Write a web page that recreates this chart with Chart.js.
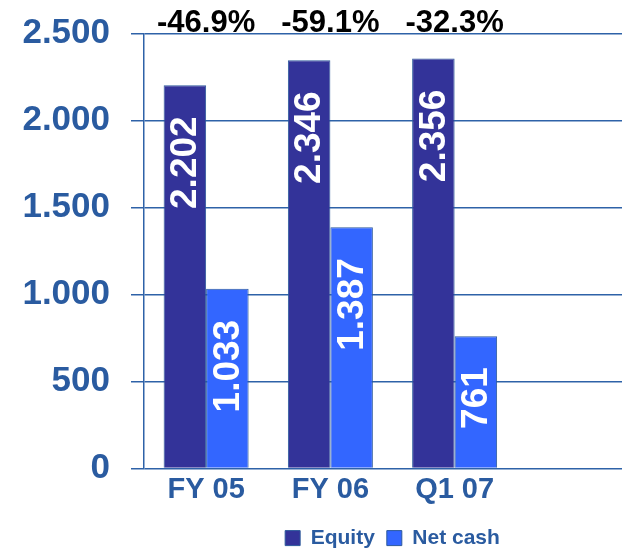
<!DOCTYPE html>
<html>
<head>
<meta charset="utf-8">
<script src="https://cdn.jsdelivr.net/npm/chart.js@4.4.1/dist/chart.umd.min.js"></script>
<style>
  html, body { margin: 0; padding: 0; background: #fff; }
  #wrap { width: 622px; height: 548px; overflow: hidden; }
  #box { width: 641px; height: 548px; }
</style>
</head>
<body>
<div id="wrap"><div id="box"><canvas id="chart"></canvas></div></div>
<script>
const categories = ['FY 05', 'FY 06', 'Q1 07', ''];
const equity = [2202, 2346, 2356, null];
const netCash = [1033, 1387, 761, null];
const gearing = ['-46.9%', '-59.1%', '-32.3%'];
const yTicks = [0, 500, 1000, 1500, 2000, 2500];

const BLUE_TEXT = '#2a5ba0';
const LINE = '#2e62a8';
const FONT = "'Liberation Sans', Arial, Helvetica, sans-serif";

// 2202 -> "2.202"
function fmt(v) {
    return String(v).replace(/\B(?=(\d{3})+(?!\d))/g, '.');
}

// white rotated values inside the bars, gearing % above each group
const barLabels = {
    id: 'barLabels',
    afterDatasetsDraw(chart) {
        const ctx = chart.ctx;
        ctx.save();
        ctx.fillStyle = '#ffffff';
        ctx.font = 'bold 37px ' + FONT;
        ctx.textAlign = 'right';
        ctx.textBaseline = 'middle';
        chart.data.datasets.forEach((ds, di) => {
            chart.getDatasetMeta(di).data.forEach((bar, i) => {
                const v = ds.data[i];
                if (v == null) return;
                ctx.save();
                ctx.translate(bar.x + 1, bar.y + 31);
                ctx.rotate(-Math.PI / 2);
                ctx.fillText(fmt(v), 0, 0);
                ctx.restore();
            });
        });

        const x = chart.scales.x;
        ctx.fillStyle = '#000000';
        ctx.font = 'bold 31px ' + FONT;
        ctx.textAlign = 'center';
        ctx.textBaseline = 'alphabetic';
        gearing.forEach((t, i) => {
            ctx.fillText(t, x.getPixelForValue(i), chart.chartArea.top - 2);
        });
        ctx.restore();
    }
};

const CHART = document.getElementById('chart');

const chart = new Chart(CHART, {
    type: 'bar',
    plugins: [barLabels],
    data: {
        labels: categories,
        datasets: [
            {
                label: 'Equity',
                data: equity,
                backgroundColor: '#333399',
                borderColor: '#2d5a9c',
                borderWidth: 1,
                categoryPercentage: 0.684,
                barPercentage: 1
            },
            {
                label: 'Net cash',
                data: netCash,
                backgroundColor: '#3366ff',
                borderColor: '#2d5a9c',
                borderWidth: 1,
                categoryPercentage: 0.684,
                barPercentage: 1
            }
        ]
    },
    options: {
        responsive: true,
        maintainAspectRatio: false,
        animation: false,
        layout: { padding: { top: 33.5, left: 0, right: 0, bottom: -10.6 } },
        plugins: {
            tooltip: { enabled: false },
            legend: {
                position: 'bottom',
                fullSize: false,
                labels: {
                    color: BLUE_TEXT,
                    font: { family: FONT, size: 21, weight: 'bold' },
                    boxWidth: 15,
                    boxHeight: 15,
                    padding: 12
                }
            }
        },
        scales: {
            x: {
                afterFit(s) { s.height = 47; },
                grid: { display: false, drawTicks: false },
                border: { display: false },
                ticks: {
                    color: BLUE_TEXT,
                    font: { family: FONT, size: 29, weight: 'bold' },
                    padding: 4
                }
            },
            y: {
                min: 0,
                max: 2500,
                afterFit(s) {
                    s.width = 144;
                    s.paddingTop = 0;
                    s.paddingBottom = 0;
                },
                afterBuildTicks(s) { s.ticks = yTicks.map(v => ({ value: v })); },
                grid: { color: LINE, lineWidth: 1.5, tickLength: 13 },
                border: { display: true, color: LINE, width: 1.5 },
                ticks: {
                    color: BLUE_TEXT,
                    font: { family: FONT, size: 35, weight: 'bold' },
                    padding: 21,
                    callback: v => fmt(v)
                }
            }
        }
    }
});
</script>
</body>
</html>
